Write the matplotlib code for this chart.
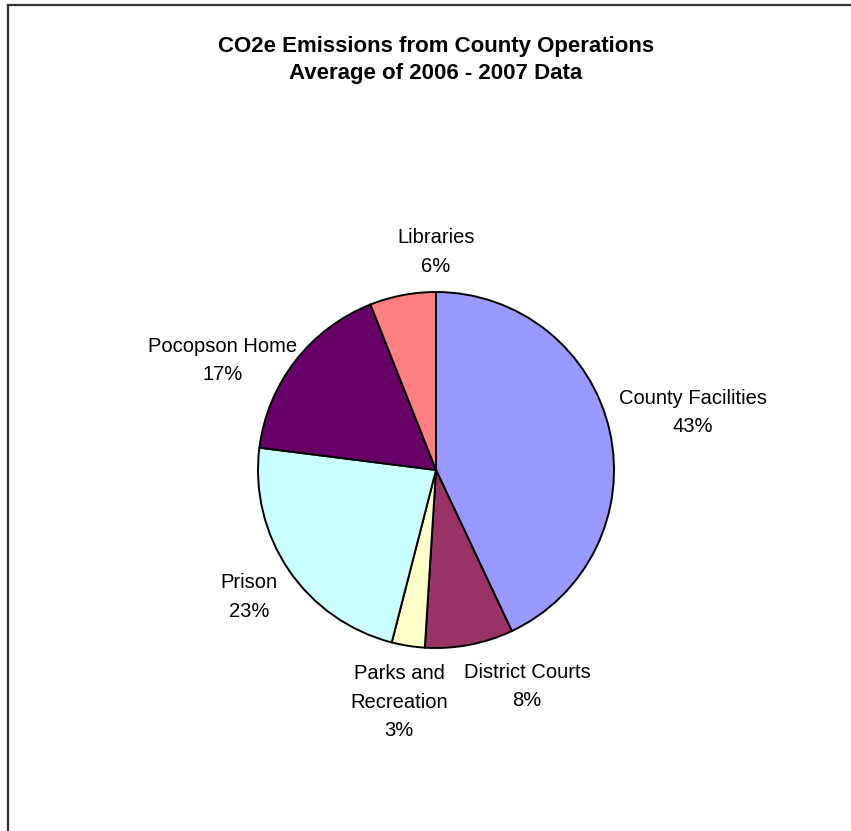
import matplotlib
matplotlib.use("Agg")
import matplotlib.pyplot as plt
import numpy as np

plt.rcParams['font.family'] = ['Liberation Sans', 'DejaVu Sans']

# EMISSIONS SHARE BY SOURCE (percent)
sources = ['County Facilities', 'District Courts', 'Parks and\nRecreation',
           'Prison', 'Pocopson Home', 'Libraries']
shares = [43, 8, 3, 23, 17, 6]
colors = ['#9999FF', '#993366', '#FFFFCC', '#CCFFFF', '#660066', '#FF8080']

# label radius (in pie radii) and angle nudge (degrees) for each slice
label_radius = [1.48, 1.32, 1.32, 1.27, 1.35, 1.225]
label_nudge = [0, 12, 0, 0, 10.6, -10.8]

# GEOMETRY (pixels)
W, H = 851, 831
cx, cy, R = 436, 470, 178

fig = plt.figure(figsize=(W / 100, H / 100), dpi=100)
ax = fig.add_axes([0, 0, 1, 1])

wedges, _ = ax.pie(shares, colors=colors, startangle=90, counterclock=False,
                   radius=1.0, center=(0, 0), frame=True,
                   wedgeprops=dict(edgecolor='black', linewidth=1.4))
ax.set_xlim(-cx / R, (W - cx) / R)
ax.set_ylim(-(H - cy) / R, cy / R)
ax.set_aspect('auto')
ax.axis('off')

# LABELS
for w, name, pct, r, nudge in zip(wedges, sources, shares, label_radius, label_nudge):
    mid = np.deg2rad((w.theta1 + w.theta2) / 2 + nudge)
    ax.text(r * np.cos(mid), r * np.sin(mid), f'{name}\n{pct}%',
            ha='center', va='center', fontsize=14.5, linespacing=1.62)

# TITLE
fig.text(436 / W, 1 - 60 / H, 'CO2e Emissions from County Operations\nAverage of 2006 - 2007 Data',
         ha='center', va='center', fontsize=16, fontweight='bold', linespacing=1.32)

# FRAME (top and left edges)
fig.add_artist(plt.Line2D([8 / W, 8 / W], [0, 1 - 5 / H], transform=fig.transFigure,
                          color='#333333', linewidth=1.6))
fig.add_artist(plt.Line2D([8 / W, 1], [1 - 5 / H, 1 - 5 / H], transform=fig.transFigure,
                          color='#333333', linewidth=1.6))

fig.savefig('out.png', dpi=100)
